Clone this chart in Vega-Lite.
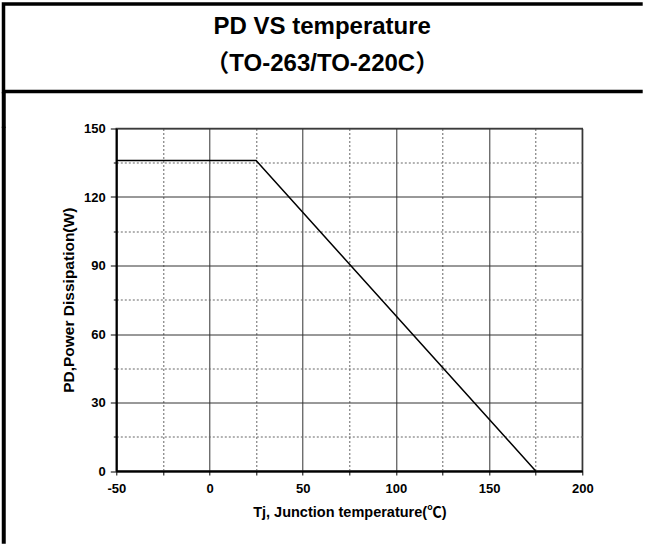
{
  "$schema": "https://vega.github.io/schema/vega-lite/v6.json",
  "padding": {"left": 0.5, "top": 1, "right": 0, "bottom": 0},
  "background": "white",
  "config": {"font": "Liberation Sans"},
  "spacing": -3.5,
  "vconcat": [
    {
      "width": 637.5,
      "height": 87.5,
      "view": {"stroke": "black", "strokeWidth": 3.5, "strokeDash": [637.45, 87.6, 740], "strokeCap": "square"},
      "data": {"values": [{"heading": "PD VS temperature\n（TO-263/TO-220C）"}]},
      "mark": {
        "type": "text",
        "lineBreak": "\n",
        "lineHeight": 37,
        "align": "center",
        "baseline": "alphabetic",
        "font": "Liberation Sans, Noto Sans CJK SC",
        "fontSize": 24,
        "fontWeight": "bold",
        "color": "black",
        "dx": 0,
        "dy": -14.25
      },
      "encoding": {"text": {"field": "heading", "type": "nominal"}}
    },
    {
      "spacing": -6.5,
      "vconcat": [
        {
          "width": 0.5,
          "height": 32,
          "view": {"stroke": "black", "strokeWidth": 3.5},
          "data": {"values": []},
          "mark": "rule",
          "encoding": {}
        },
        {
          "spacing": 53.8,
          "hconcat": [
            {
              "width": 0.5,
              "height": 413.5,
              "view": {"stroke": "black", "strokeWidth": 3.5},
              "data": {"values": []},
              "mark": "rule",
              "encoding": {}
            },
            {
              "width": 466,
              "height": 342.5,
              "view": {"stroke": "#444", "strokeWidth": 1.5},
              "data": {"values": [
                {"Tj": -50, "PD": 136},
                {"Tj": 25, "PD": 136},
                {"Tj": 175, "PD": 0}
              ]},
              "mark": {"type": "line", "color": "black", "strokeWidth": 1.5},
              "encoding": {
                "x": {
                  "field": "Tj",
                  "type": "quantitative",
                  "scale": {"domain": [-50, 200], "nice": false, "zero": false},
                  "axis": {
                    "values": [-50, -25, 0, 25, 50, 75, 100, 125, 150, 175, 200],
                    "labelExpr": "datum.value % 50 === 0 ? '' + datum.value : ''",
                    "labelOverlap": false,
                    "labelFont": "Liberation Sans",
                    "labelFontSize": 13,
                    "labelFontWeight": "bold",
                    "labelColor": "black",
                    "labelPadding": 7,
                    "labelFlush": false,
                    "tickSize": 4,
                    "tickColor": "black",
                    "tickWidth": 1,
                    "domainColor": "black",
                    "domainWidth": 2,
                    "grid": true,
                    "gridColor": {"condition": {"test": "datum.value % 50 !== 0", "value": "#666"}, "value": "#333"},
                    "gridDash": {"condition": {"test": "datum.value % 50 !== 0", "value": [2, 2]}, "value": []},
                    "gridWidth": 1,
                    "gridOpacity": 1,
                    "title": "Tj, Junction temperature(℃)",
                    "titleFont": "Liberation Sans, Noto Sans CJK SC",
                    "titleFontSize": 14.5,
                    "titleFontWeight": "bold",
                    "titleColor": "black",
                    "titlePadding": 10
                  }
                },
                "y": {
                  "field": "PD",
                  "type": "quantitative",
                  "scale": {"domain": [0, 150], "nice": false},
                  "axis": {
                    "values": [0, 15, 30, 45, 60, 75, 90, 105, 120, 135, 150],
                    "labelExpr": "datum.value % 30 === 0 ? '' + datum.value : ''",
                    "labelOverlap": false,
                    "labelFont": "Liberation Sans",
                    "labelFontSize": 13,
                    "labelFontWeight": "bold",
                    "labelColor": "black",
                    "labelPadding": 5,
                    "labelFlush": false,
                    "tickSize": {"condition": {"test": "datum.value % 30 !== 0", "value": 3}, "value": 6},
                    "tickColor": "black",
                    "tickWidth": 1,
                    "domainColor": "black",
                    "domainWidth": 2,
                    "grid": true,
                    "gridColor": {"condition": {"test": "datum.value % 30 !== 0", "value": "#666"}, "value": "#333"},
                    "gridDash": {"condition": {"test": "datum.value % 30 !== 0", "value": [2, 2]}, "value": []},
                    "gridWidth": 1,
                    "gridOpacity": 1,
                    "title": "PD,Power Dissipation(W)",
                    "titleFont": "Liberation Sans",
                    "titleFontSize": 15.5,
                    "titleFontWeight": "bold",
                    "titleColor": "black",
                    "titlePadding": 7
                  }
                }
              }
            }
          ]
        }
      ]
    }
  ]
}
